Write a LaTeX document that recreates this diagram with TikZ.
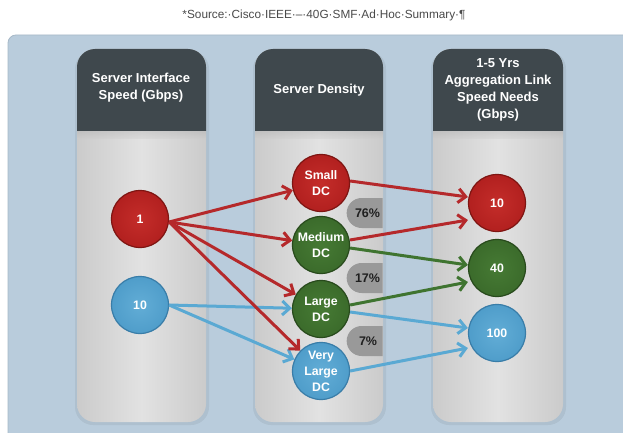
\documentclass[tikz,border=0pt]{standalone}
\usepackage{fontspec}
\setmainfont{Liberation Sans}
\usetikzlibrary{arrows.meta,shapes.misc}

\definecolor{cPanel}{HTML}{B9CCDC}
\definecolor{cPanelLine}{HTML}{A7B9C8}
\definecolor{cHead}{HTML}{3F484D}
\definecolor{cColMid}{HTML}{E2E2E2}
\definecolor{cColEdge}{HTML}{CBCBCB}
\definecolor{cRed}{HTML}{B2201F}
\definecolor{cRedL}{HTML}{C42D2A}
\definecolor{cRedD}{HTML}{7E1512}
\definecolor{cRedA}{HTML}{B5292B}
\definecolor{cGreen}{HTML}{3B6B2B}
\definecolor{cGreenL}{HTML}{467A34}
\definecolor{cGreenD}{HTML}{284A1C}
\definecolor{cGreenA}{HTML}{3F7430}
\definecolor{cBlue}{HTML}{4F9DCA}
\definecolor{cBlueL}{HTML}{62ADD6}
\definecolor{cBlueD}{HTML}{397DA8}
\definecolor{cBlueA}{HTML}{5AA9D3}
\definecolor{cBadge}{HTML}{999999}
\definecolor{cNote}{HTML}{4A4A4A}

\tikzset{
  headtext/.style={text=white, align=center,
    font=\bfseries\fontsize{13}{17}\selectfont},
  dot/.style={circle, minimum size=57pt, inner sep=0pt, line width=1.2pt,
    text=white, align=center, font=\bfseries\fontsize{12.3}{16}\selectfont},
  reddot/.style={dot, draw=cRedD, inner color=cRedL, outer color=cRed},
  greendot/.style={dot, draw=cGreenD, inner color=cGreenL, outer color=cGreen},
  bluedot/.style={dot, draw=cBlueD, inner color=cBlueL, outer color=cBlue},
  badge/.style={rounded rectangle, rounded rectangle right arc=none,
    fill=cBadge, minimum width=36pt, minimum height=30pt, inner sep=0pt,
    text=black!88, font=\bfseries\fontsize{12.5}{14}\selectfont},
  link/.style={line width=3pt, -{Straight Barb[length=7.5pt,width=14pt]}},
  redlink/.style={link, draw=cRedA},
  greenlink/.style={link, draw=cGreenA},
  bluelink/.style={link, draw=cBlueA},
}

\begin{document}
\begin{tikzpicture}[x=1pt, y=-1pt]
  \useasboundingbox (0,0) rectangle (623,433);
  \fill[white] (0,0) rectangle (623,433);

  % caption line
  \node[text=cNote, font=\fontsize{11.8}{14}\selectfont] (note) at (324,15)
    {*Source:·Cisco·IEEE·–·40G·SMF·Ad·Hoc·Summary·¶};

  % blue backdrop
  \fill[cPanel, draw=cPanelLine, line width=0.8pt, rounded corners=8pt]
    (8,35) rectangle (650,460);

  % three columns: shaded body, dark rounded header
  \foreach \xa/\xb in {77/206, 255/383, 433/563}{
    \fill[black, opacity=0.06, rounded corners=18pt]
      (\xa-2,51) rectangle (\xb+3,425);
    \shade[left color=cColEdge, right color=cColEdge, middle color=cColMid,
      rounded corners=18pt] (\xa,49) rectangle (\xb,422);
    \shade[top color=black!35, bottom color=cColEdge, opacity=0.35]
      (\xa,130) rectangle (\xb,138);
    \begin{scope}
      \clip (\xa,40) rectangle (\xb,130);
      \fill[cHead, rounded corners=18pt] (\xa,49) rectangle (\xb,160);
    \end{scope}
  }

  % column headings
  \node[headtext] (h1) at (141,88) {Server Interface\\Speed (Gbps)};
  \node[headtext] (h2) at (319,90) {Server Density};
  \node[headtext] (h3) at (498,90)
    {1-5 Yrs\\Aggregation Link\\Speed Needs\\(Gbps)};

  % share badges, text sits right of the rounded end
  \node[badge, text width=0pt] (b76) at (365,213) {\hspace*{-10pt}76\%};
  \node[badge, text width=0pt] (b17) at (365,278) {\hspace*{-10pt}17\%};
  \node[badge, text width=0pt] (b7)  at (365,341) {\hspace*{-6pt}7\%};

  % server interface speeds
  \node[reddot]  (one) at (140,219) {1};
  \node[bluedot] (ten) at (140,305) {10};

  % data centre sizes
  \node[reddot]   (small)  at (321,183) {Small\\DC};
  \node[greendot] (medium) at (321,245) {Medium\\DC};
  \node[greendot] (large)  at (321,309) {Large\\DC};
  \node[bluedot]  (vlarge) at (321,371) {Very\\Large\\DC};

  % aggregation link speeds
  \node[reddot]   (t10)  at (497,203) {10};
  \node[greendot] (t40)  at (497,268) {40};
  \node[bluedot]  (t100) at (497,333) {100};

  % fan-out points
  \coordinate (oneOut) at ([yshift=-3pt]one.east);
  \coordinate (tenOut) at (ten.east);

  % 10G servers
  \draw[bluelink] (tenOut) -- (large);
  \draw[bluelink] (tenOut) -- (vlarge);
  % 1G servers
  \draw[redlink] (oneOut) -- (small);
  \draw[redlink] (oneOut) -- (medium);
  \draw[redlink] (oneOut) -- (large);
  \draw[redlink] (oneOut) -- (vlarge);

  % data centres to aggregation speeds
  \draw[redlink]   ([yshift=2pt]small.east)   -- ([yshift=6pt]t10.west);
  \draw[redlink]   ([yshift=5pt]medium.east)  -- ([yshift=-17pt]t10.west);
  \draw[greenlink] ([yshift=-3pt]medium.east) -- ([yshift=3pt]t40.west);
  \draw[greenlink] ([yshift=4pt]large.east)   -- ([yshift=-14pt]t40.west);
  \draw[bluelink]  ([yshift=-3pt]large.east)  -- ([yshift=5pt]t100.west);
  \draw[bluelink]  (vlarge.east)              -- ([yshift=-15pt]t100.west);
\end{tikzpicture}
\end{document}
